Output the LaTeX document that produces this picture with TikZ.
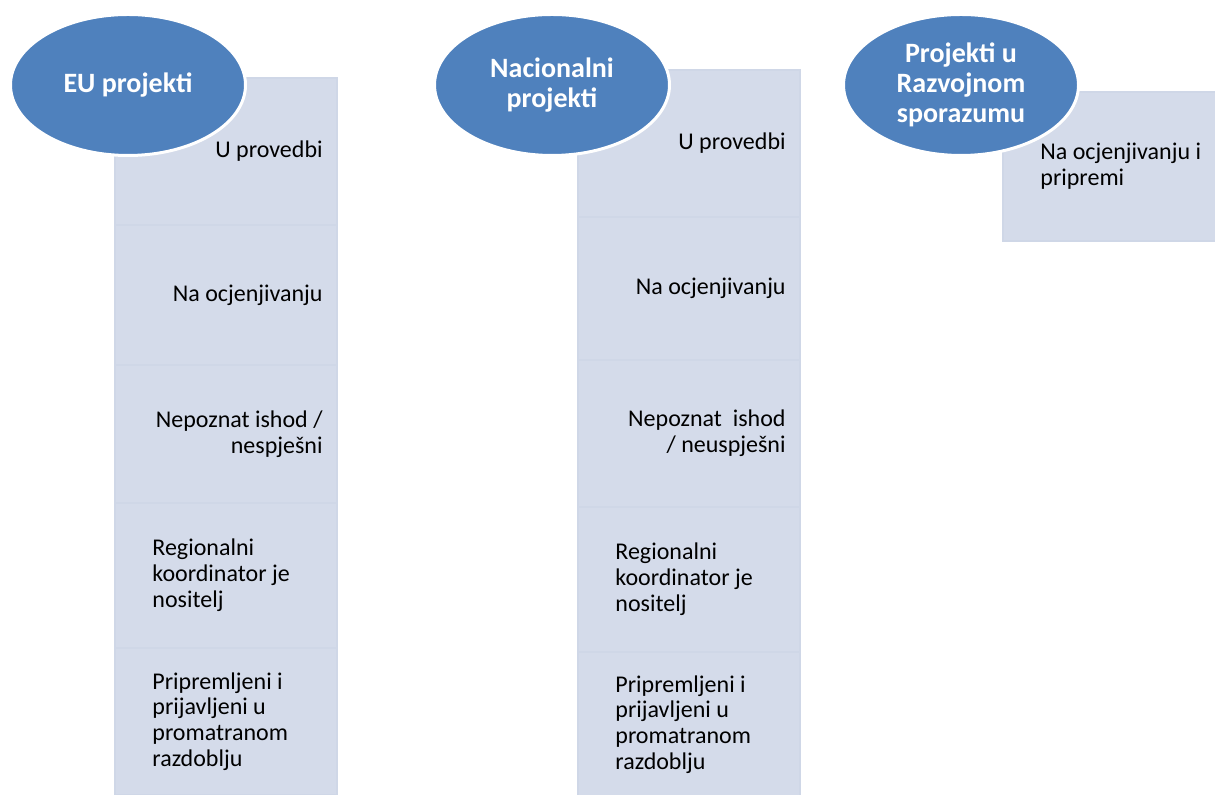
\documentclass[tikz,border=0pt]{standalone}
\usepackage{fontspec}
\setmainfont{Carlito}
\usetikzlibrary{shapes.geometric}
\definecolor{headblue}{HTML}{4F81BD}
\definecolor{stagefill}{HTML}{D4DBEA}
\definecolor{stageline}{HTML}{CFD7E7}
\tikzset{
  head/.style={ellipse, fill=headblue, draw=white, line width=1.5pt, minimum width=117.5pt, minimum height=70.5pt, inner sep=0pt, text=white, align=center, font=\bfseries\fontsize{14}{15}\selectfont},
  stage/.style={rectangle, fill=stagefill, draw=stageline, line width=1pt, minimum width=111pt, inner sep=0pt},
  lbl/.style={inner sep=0pt, font=\fontsize{12}{12.9}\selectfont},
}
\begin{document}
\begin{tikzpicture}[x=0.5pt, y=-0.5pt]
        \useasboundingbox (0,0) rectangle (1215,795);

        \node [stage, minimum height=73.5pt] (eu1) at (226, 151.5) {};
        \node [stage, minimum height=70pt] (eu2) at (226, 295) {};
        \node [stage, minimum height=69pt] (eu3) at (226, 434) {};
        \node [stage, minimum height=72.5pt] (eu4) at (226, 575.5) {};
        \node [stage, minimum height=73.5pt] (eu5) at (226, 721.5) {};

        \node [stage, minimum height=73.5pt] (nat1) at (689, 143.5) {};
        \node [stage, minimum height=71.5pt] (nat2) at (689, 288.5) {};
        \node [stage, minimum height=73.5pt] (nat3) at (689, 433.5) {};
        \node [stage, minimum height=72.5pt] (nat4) at (689, 579.5) {};
        \node [stage, minimum height=72.5pt] (nat5) at (689, 724.5) {};

        \node [stage, minimum height=74.5pt] (raz1) at (1114, 166.5) {};

        \node [head] (eu) at (128, 85) {EU projekti};
        \node [head] (nat) at (552, 85) {Nacionalni\\projekti};
        \node [head] (raz) at (961, 85) {Projekti u\\Razvojnom\\sporazumu};

        \node [lbl, anchor=east, align=right] (eu1t) at ([xshift=-7.5pt]eu1.east) {U provedbi};
        \node [lbl, anchor=east, align=right] (eu2t) at ([xshift=-7.5pt]eu2.east) {Na ocjenjivanju};
        \node [lbl, anchor=east, align=right] (eu3t) at ([xshift=-7.5pt]eu3.east) {Nepoznat ishod /\\nespješni};
        \node [lbl, anchor=west, align=left] (eu4t) at ([xshift=19pt]eu4.west) {Regionalni\\koordinator je\\nositelj};
        \node [lbl, anchor=west, align=left] (eu5t) at ([xshift=19pt]eu5.west) {Pripremljeni i\\prijavljeni u\\promatranom\\razdoblju};

        \node [lbl, anchor=east, align=right] (nat1t) at ([xshift=-7.5pt]nat1.east) {U provedbi};
        \node [lbl, anchor=east, align=right] (nat2t) at ([xshift=-7.5pt]nat2.east) {Na ocjenjivanju};
        \node [lbl, anchor=east, align=right] (nat3t) at ([xshift=-7.5pt]nat3.east) {Nepoznat~ ishod\\/ neuspješni};
        \node [lbl, anchor=west, align=left] (nat4t) at ([xshift=19pt]nat4.west) {Regionalni\\koordinator je\\nositelj};
        \node [lbl, anchor=west, align=left] (nat5t) at ([xshift=19pt]nat5.west) {Pripremljeni i\\prijavljeni u\\promatranom\\razdoblju};

        \node [lbl, anchor=west, align=left] (raz1t) at ([xshift=19pt]raz1.west) {Na ocjenjivanju i\\pripremi};

    \end{tikzpicture}
\end{document}
